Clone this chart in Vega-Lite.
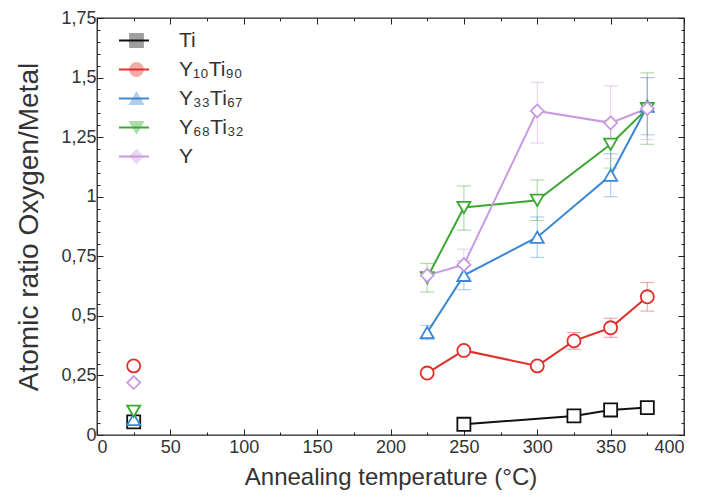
{
  "$schema": "https://vega.github.io/schema/vega-lite/v6.json",
  "width": 587,
  "height": 417,
  "autosize": "none",
  "padding": {"left": 97, "top": 18, "right": 21, "bottom": 66},
  "config": {
    "view": {"stroke": "#222", "strokeWidth": 1.3},
    "font": "Liberation Sans",
    "axis": {"grid": false, "domain": false, "labelFont": "Liberation Sans", "titleFont": "Liberation Sans", "labelColor": "#333", "titleColor": "#333", "titleFontWeight": "normal", "tickColor": "#222"},
    "legend": {"labelFont": "Liberation Sans"}
  },
  "data": {"values": [
    {"s": "Ti", "T": 25, "v": 0.055},
    {"s": "Ti", "T": 250, "v": 0.045},
    {"s": "Ti", "T": 325, "v": 0.08},
    {"s": "Ti", "T": 350, "v": 0.105},
    {"s": "Ti", "T": 375, "v": 0.115},
    {"s": "Y₁₀Ti₉₀", "T": 25, "v": 0.29},
    {"s": "Y₁₀Ti₉₀", "T": 225, "v": 0.26},
    {"s": "Y₁₀Ti₉₀", "T": 250, "v": 0.355},
    {"s": "Y₁₀Ti₉₀", "T": 300, "v": 0.29},
    {"s": "Y₁₀Ti₉₀", "T": 325, "v": 0.395, "lo": 0.36, "hi": 0.43},
    {"s": "Y₁₀Ti₉₀", "T": 350, "v": 0.45, "lo": 0.41, "hi": 0.49},
    {"s": "Y₁₀Ti₉₀", "T": 375, "v": 0.58, "lo": 0.52, "hi": 0.64},
    {"s": "Y₃₃Ti₆₇", "T": 25, "v": 0.065},
    {"s": "Y₃₃Ti₆₇", "T": 225, "v": 0.43, "lo": 0.4, "hi": 0.46},
    {"s": "Y₃₃Ti₆₇", "T": 250, "v": 0.67, "lo": 0.61, "hi": 0.73},
    {"s": "Y₃₃Ti₆₇", "T": 300, "v": 0.83, "lo": 0.745, "hi": 0.915},
    {"s": "Y₃₃Ti₆₇", "T": 350, "v": 1.09, "lo": 1.0, "hi": 1.18},
    {"s": "Y₃₃Ti₆₇", "T": 375, "v": 1.38, "lo": 1.26, "hi": 1.5},
    {"s": "Y₆₈Ti₃₂", "T": 25, "v": 0.1},
    {"s": "Y₆₈Ti₃₂", "T": 225, "v": 0.66, "lo": 0.6, "hi": 0.72},
    {"s": "Y₆₈Ti₃₂", "T": 250, "v": 0.955, "lo": 0.86, "hi": 1.045},
    {"s": "Y₆₈Ti₃₂", "T": 300, "v": 0.985, "lo": 0.9, "hi": 1.07},
    {"s": "Y₆₈Ti₃₂", "T": 350, "v": 1.22, "lo": 1.12, "hi": 1.32},
    {"s": "Y₆₈Ti₃₂", "T": 375, "v": 1.37, "lo": 1.22, "hi": 1.52},
    {"s": "Y", "T": 25, "v": 0.22},
    {"s": "Y", "T": 225, "v": 0.67},
    {"s": "Y", "T": 250, "v": 0.715, "lo": 0.66, "hi": 0.78},
    {"s": "Y", "T": 300, "v": 1.36, "lo": 1.225, "hi": 1.48},
    {"s": "Y", "T": 350, "v": 1.31, "lo": 1.16, "hi": 1.465},
    {"s": "Y", "T": 375, "v": 1.37, "lo": 1.24, "hi": 1.5}
  ]},
  "resolve": {"axis": {"x": "independent", "y": "independent"}},
  "layer": [
    {
      "mark": {"type": "rule", "strokeWidth": 1.2, "opacity": 0.4},
      "encoding": {
        "x": {"field": "T", "type": "quantitative", "scale": {"domain": [0, 400], "nice": false},
              "axis": {"orient": "bottom", "title": null, "labels": false, "tickSize": -3, "values": [25, 75, 125, 175, 225, 275, 325, 375]}},
        "y": {"field": "lo", "type": "quantitative", "scale": {"domain": [0, 1.75], "nice": false},
              "axis": {"orient": "left", "title": null, "labels": false, "tickSize": -3, "values": [0.05,0.1,0.15,0.2,0.3,0.35,0.4,0.45,0.55,0.6,0.65,0.7,0.8,0.85,0.9,0.95,1.05,1.1,1.15,1.2,1.3,1.35,1.4,1.45,1.55,1.6,1.65,1.7]}},
        "y2": {"field": "hi"},
        "color": {"field": "s", "type": "nominal"}
      }
    },
    {
      "mark": {"type": "tick", "orient": "horizontal", "size": 14, "thickness": 1.2, "opacity": 0.4},
      "encoding": {
        "x": {"field": "T", "type": "quantitative",
              "axis": {"orient": "top", "title": null, "labels": false, "tickSize": -3, "values": [25, 75, 125, 175, 225, 275, 325, 375]}},
        "y": {"field": "lo", "type": "quantitative",
              "axis": {"orient": "right", "title": null, "labels": false, "tickSize": -3, "values": [0.05,0.1,0.15,0.2,0.3,0.35,0.4,0.45,0.55,0.6,0.65,0.7,0.8,0.85,0.9,0.95,1.05,1.1,1.15,1.2,1.3,1.35,1.4,1.45,1.55,1.6,1.65,1.7]}},
        "color": {"field": "s", "type": "nominal"}
      }
    },
    {
      "mark": {"type": "tick", "orient": "horizontal", "size": 14, "thickness": 1.2, "opacity": 0.4},
      "encoding": {
        "x": {"field": "T", "type": "quantitative", "axis": null},
        "y": {"field": "hi", "type": "quantitative", "axis": null},
        "color": {"field": "s", "type": "nominal"}
      }
    },
    {
      "transform": [{"filter": "datum.T >= 200"}],
      "mark": {"type": "line", "strokeWidth": 2},
      "encoding": {
        "x": {"field": "T", "type": "quantitative",
              "axis": {"orient": "bottom", "title": "Annealing temperature (°C)", "values": [0,50,100,150,200,250,300,350,400], "tickSize": -6, "labelFontSize": 18, "titleFontSize": 24, "labelPadding": 9, "titlePadding": 9}},
        "y": {"field": "v", "type": "quantitative",
              "axis": {"orient": "left", "title": "Atomic ratio Oxygen/Metal", "values": [0,0.25,0.5,0.75,1,1.25,1.5,1.75], "tickSize": -6, "labelFontSize": 18, "titleFontSize": 28, "labelPadding": 7, "titlePadding": 17,
                       "labelExpr": "replace(toString(datum.value), '.', ',')"}},
        "stroke": {"field": "s", "type": "nominal",
                   "scale": {"domain": ["Ti", "Y₁₀Ti₉₀", "Y₃₃Ti₆₇", "Y₆₈Ti₃₂", "Y", "~"], "range": ["#111111", "#e0302b", "#3b87d4", "#3aa832", "#c99ae0", "#ffffff"]},
                   "legend": {"orient": "none", "legendX": 21, "legendY": 12, "title": null, "values": ["Ti", "Y₁₀Ti₉₀", "Y₃₃Ti₆₇", "Y₆₈Ti₃₂", "Y"], "symbolType": "stroke", "symbolSize": 900, "symbolStrokeWidth": 2, "labelFontSize": 21, "labelExpr": "''", "clipHeight": 21, "rowPadding": 7, "labelOffset": 25}},
        "detail": {"field": "s"}
      }
    },
    {
      "mark": {"type": "point", "filled": false, "fill": "white", "fillOpacity": 1, "strokeWidth": 1.8, "size": 170, "opacity": 1},
      "encoding": {
        "x": {"field": "T", "type": "quantitative",
              "axis": {"orient": "top", "title": null, "labels": false, "values": [0,50,100,150,200,250,300,350,400], "tickSize": -6}},
        "y": {"field": "v", "type": "quantitative",
              "axis": {"orient": "right", "title": null, "labels": false, "values": [0,0.25,0.5,0.75,1,1.25,1.5,1.75], "tickSize": -6}},
        "color": {"field": "s", "type": "nominal",
                  "scale": {"domain": ["Ti", "Y₁₀Ti₉₀", "Y₃₃Ti₆₇", "Y₆₈Ti₃₂", "Y"], "range": ["#111111", "#e0302b", "#3b87d4", "#3aa832", "#c99ae0"]},
                  "legend": {"orient": "none", "legendX": 29, "legendY": 12, "title": null, "symbolType": "circle", "symbolSize": 170, "symbolStrokeWidth": 1.8, "symbolFillColor": "white", "labelFontSize": 21, "labelColor": "#333", "clipHeight": 21, "rowPadding": 7, "labelOffset": 32,
                             "encode": {"symbols": {"update": {"fill": {"value": "white"}, "fillOpacity": {"value": 1}, "opacity": {"value": 1}, "strokeOpacity": {"value": 1}}}}}},
        "shape": {"field": "s", "type": "nominal",
                  "scale": {"domain": ["Ti", "Y₁₀Ti₉₀", "Y₃₃Ti₆₇", "Y₆₈Ti₃₂", "Y"], "range": ["square", "circle", "triangle-up", "triangle-down", "diamond"]}}
      }
    }
  ]
}
